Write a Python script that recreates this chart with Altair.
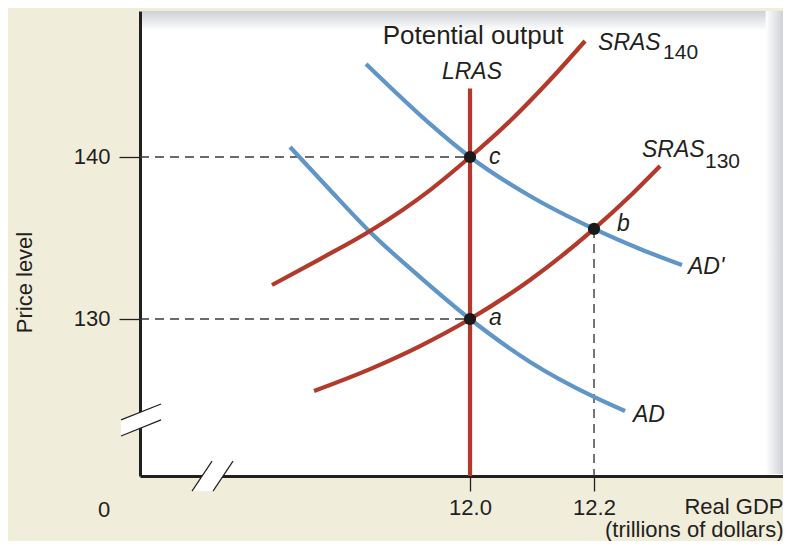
import altair as alt
import pandas as pd

# ---------------- data ----------------
X_MIN, X_MAX = 11.4677, 12.5048     # real GDP (trillions)
Y_MIN, Y_MAX = 120.3086, 149.0123   # price level

ad_x = [11.7097, 11.7742, 11.8387, 11.9194, 12.0, 12.0968, 12.2, 12.25]
ad_y = [140.62, 137.96, 135.37, 132.59, 130.0, 127.35, 125.19, 124.32]

adp_x = [11.8323, 11.871, 11.9355, 12.0, 12.0968, 12.2, 12.2742, 12.3419]
adp_y = [145.74, 144.32, 142.04, 140.0, 137.59, 135.56, 134.32, 133.33]

s140_x = [11.6806, 11.7581, 11.8387, 11.9355, 12.0, 12.0645, 12.129, 12.1855]
s140_y = [132.10, 133.70, 135.43, 137.96, 140.0, 142.22, 144.75, 147.16]

s130_x = [11.7484, 11.8387, 11.9194, 12.0, 12.0968, 12.2, 12.2581, 12.3065]
s130_y = [125.56, 126.91, 128.33, 130.0, 132.41, 135.56, 137.59, 139.44]

lras_x = 12.0
lras_top = 144.23

pt_name = ["a", "b", "c"]
pt_x = [12.0, 12.2, 12.0]
pt_y = [130.0, 135.56, 140.0]

# dashed guide lines: (x, x2, y, y2)
guide_x = [X_MIN, X_MIN, 12.2]
guide_x2 = [12.0, 12.0, 12.2]
guide_y = [140.0, 130.0, 135.56]
guide_y2 = [140.0, 130.0, Y_MIN]

x_ticks = [12.0, 12.2]
y_ticks = [130, 140]

# italic curve / point labels
lab_text = ["c", "a", "b", "AD'", "AD", "SRAS", "SRAS", "LRAS"]
lab_x = [12.0306, 12.0306, 12.2371, 12.3516, 12.2629, 12.2065, 12.2774, 12.0032]
lab_y = [140.0, 130.05, 135.86, 133.21, 124.07, 147.01, 140.43, 145.25]
lab_align = ["left", "left", "left", "left", "left", "left", "left", "center"]

sub_text = ["140", "130"]
sub_x = [12.3113, 12.379]
sub_y = [146.45, 139.69]

# ---------------- chart ----------------
RED = "#b3392a"
BLUE = "#6095c8"
INK = "#231f20"
FONT = "Liberation Sans"

xs = alt.Scale(domain=[X_MIN, X_MAX], nice=False, zero=False)
ys = alt.Scale(domain=[Y_MIN, Y_MAX], nice=False, zero=False)

X_AXIS = alt.Axis(values=x_ticks, format=".1f", tickSize=15, tickWidth=1.3, tickColor=INK,
                  domainColor=INK, domainWidth=3, labelFontSize=22, labelColor=INK,
                  labelPadding=6, grid=False, zindex=0, labelFont=FONT,
                  title=["Real GDP", "(trillions of dollars)"], titleFont=FONT,
                  titleFontSize=22, titleFontWeight="normal", titleColor=INK,
                  titleAlign="right", titleAnchor="end", titleBaseline="top",
                  titleX=643, titleY=20, titleLineHeight=23)
Y_AXIS = alt.Axis(values=y_ticks, tickSize=21, tickWidth=1.3, tickColor=INK,
                  domainColor=INK, domainWidth=3, labelFontSize=22, labelColor=INK,
                  labelPadding=9, grid=False, zindex=0, labelFont=FONT,
                  title="Price level", titleFont=FONT, titleFontSize=22,
                  titleFontWeight="normal", titleColor=INK, titleAngle=270,
                  titleAlign="center", titleBaseline="middle", titleX=-116, titleY=271)


def X(field):
    return alt.X(field, type="quantitative", scale=xs, axis=X_AXIS)


def Y(field):
    return alt.Y(field, type="quantitative", scale=ys, axis=Y_AXIS)


def curve_df(xv, yv):
    return pd.DataFrame({"x": xv, "y": yv, "o": list(range(len(xv)))})


# panel shading (top and right edges)
top_shade = alt.Chart(pd.DataFrame({"x": [11.4710], "x2": [X_MAX], "y": [Y_MAX], "y2": [Y_MAX - 1.2]})).mark_rect(
    fill=alt.LinearGradient(gradient="linear", x1=0, x2=0, y1=0, y2=1,
                            stops=[alt.GradientStop(color="#cdd0d5", offset=0),
                                   alt.GradientStop(color="#ffffff", offset=1)])
).encode(x=X("x"), x2="x2", y=Y("y"), y2="y2")

right_shade = alt.Chart(pd.DataFrame({"x": [X_MAX - 0.028], "x2": [X_MAX], "y": [Y_MAX], "y2": [120.432]})).mark_rect(
    fill=alt.LinearGradient(gradient="linear", x1=0, x2=1, y1=0, y2=0,
                            stops=[alt.GradientStop(color="#ffffff", offset=0),
                                   alt.GradientStop(color="#cdd0d5", offset=1)])
).encode(x=X("x"), x2="x2", y=Y("y"), y2="y2")

guides = alt.Chart(pd.DataFrame({"x": guide_x, "x2": guide_x2, "y": guide_y, "y2": guide_y2})).mark_rule(
    color="#3a3a3a", strokeWidth=1.4, strokeDash=[9, 6]
).encode(x=X("x"), x2="x2", y=Y("y"), y2="y2")

lines = []
for xv, yv, col in [(ad_x, ad_y, BLUE), (adp_x, adp_y, BLUE),
                    (s140_x, s140_y, RED), (s130_x, s130_y, RED)]:
    lines.append(
        alt.Chart(curve_df(xv, yv)).mark_line(color=col, strokeWidth=4.2, interpolate="monotone")
        .encode(x=X("x"), y=Y("y"), order="o:Q")
    )

lras = alt.Chart(pd.DataFrame({"x": [lras_x], "y": [Y_MIN], "y2": [lras_top]})).mark_rule(
    color=RED, strokeWidth=4.2
).encode(x=X("x"), y=Y("y"), y2="y2")

points = alt.Chart(pd.DataFrame({"x": pt_x, "y": pt_y, "name": pt_name})).mark_circle(
    size=150, color="#1a1a1a", opacity=1
).encode(x=X("x"), y=Y("y"))

# axis break marks (white gap + two slanted strokes)
ybreak_fill = alt.Chart(pd.DataFrame({"x": [11.4371, 11.5016], "y": [122.78, 123.77], "y2": [123.77, 124.75]})).mark_area(
    color="white", opacity=1
).encode(x=X("x"), y=Y("y"), y2="y2")
ybreak_lines = alt.Chart(pd.DataFrame({"x": [11.4371, 11.4371], "x2": [11.5016, 11.5016],
                                       "y": [122.78, 123.77], "y2": [123.77, 124.75]})).mark_rule(
    color=INK, strokeWidth=1.2
).encode(x=X("x"), x2="x2", y=Y("y"), y2="y2")

xbreak_fill = alt.Chart(pd.DataFrame({"y": [119.38, 121.23], "x": [11.5516, 11.5839], "x2": [11.5855, 11.6177]})).mark_area(
    color="white", opacity=1, orient="horizontal"
).encode(y=Y("y"), x=X("x"), x2="x2")
xbreak_lines = alt.Chart(pd.DataFrame({"x": [11.5516, 11.5855], "x2": [11.5839, 11.6177],
                                       "y": [119.38, 119.38], "y2": [121.23, 121.23]})).mark_rule(
    color=INK, strokeWidth=1.2
).encode(x=X("x"), x2="x2", y=Y("y"), y2="y2")

labels_df = pd.DataFrame({"t": lab_text, "x": lab_x, "y": lab_y, "al": lab_align})
labels_left = alt.Chart(labels_df[labels_df.al == "left"]).mark_text(
    font=FONT, fontSize=23, fontStyle="italic", color=INK, align="left", baseline="middle"
).encode(x=X("x"), y=Y("y"), text="t")
labels_center = alt.Chart(labels_df[labels_df.al == "center"]).mark_text(
    font=FONT, fontSize=23, fontStyle="italic", color=INK, align="center", baseline="middle"
).encode(x=X("x"), y=Y("y"), text="t")

subs = alt.Chart(pd.DataFrame({"t": sub_text, "x": sub_x, "y": sub_y})).mark_text(
    font=FONT, fontSize=21, color=INK, align="left", baseline="middle"
).encode(x=X("x"), y=Y("y"), text="t")

potential = alt.Chart(pd.DataFrame({"t": ["Potential output"], "x": [12.0048], "y": [147.47]})).mark_text(
    font=FONT, fontSize=26, color=INK, align="center", baseline="middle"
).encode(x=X("x"), y=Y("y"), text="t")

origin = alt.Chart(pd.DataFrame({"t": ["0"], "x": [11.4097], "y": [118.21]})).mark_text(
    font=FONT, fontSize=22, color=INK, align="center", baseline="middle"
).encode(x=X("x"), y=Y("y"), text="t")

chart = alt.layer(
    top_shade, right_shade, guides, *lines, lras, points,
    ybreak_fill, ybreak_lines, xbreak_fill, xbreak_lines,
    labels_left, labels_center, subs, potential, origin
).properties(
    width=643, height=465,
    autosize=alt.AutoSizeParams(type="none"),
    padding={"left": 132, "top": 3, "right": 0, "bottom": 65},
    background="#f1eddb"
).configure_view(stroke=None, fill="white")

chart.save("out.html", embed_options={"renderer": "svg", "actions": False})
